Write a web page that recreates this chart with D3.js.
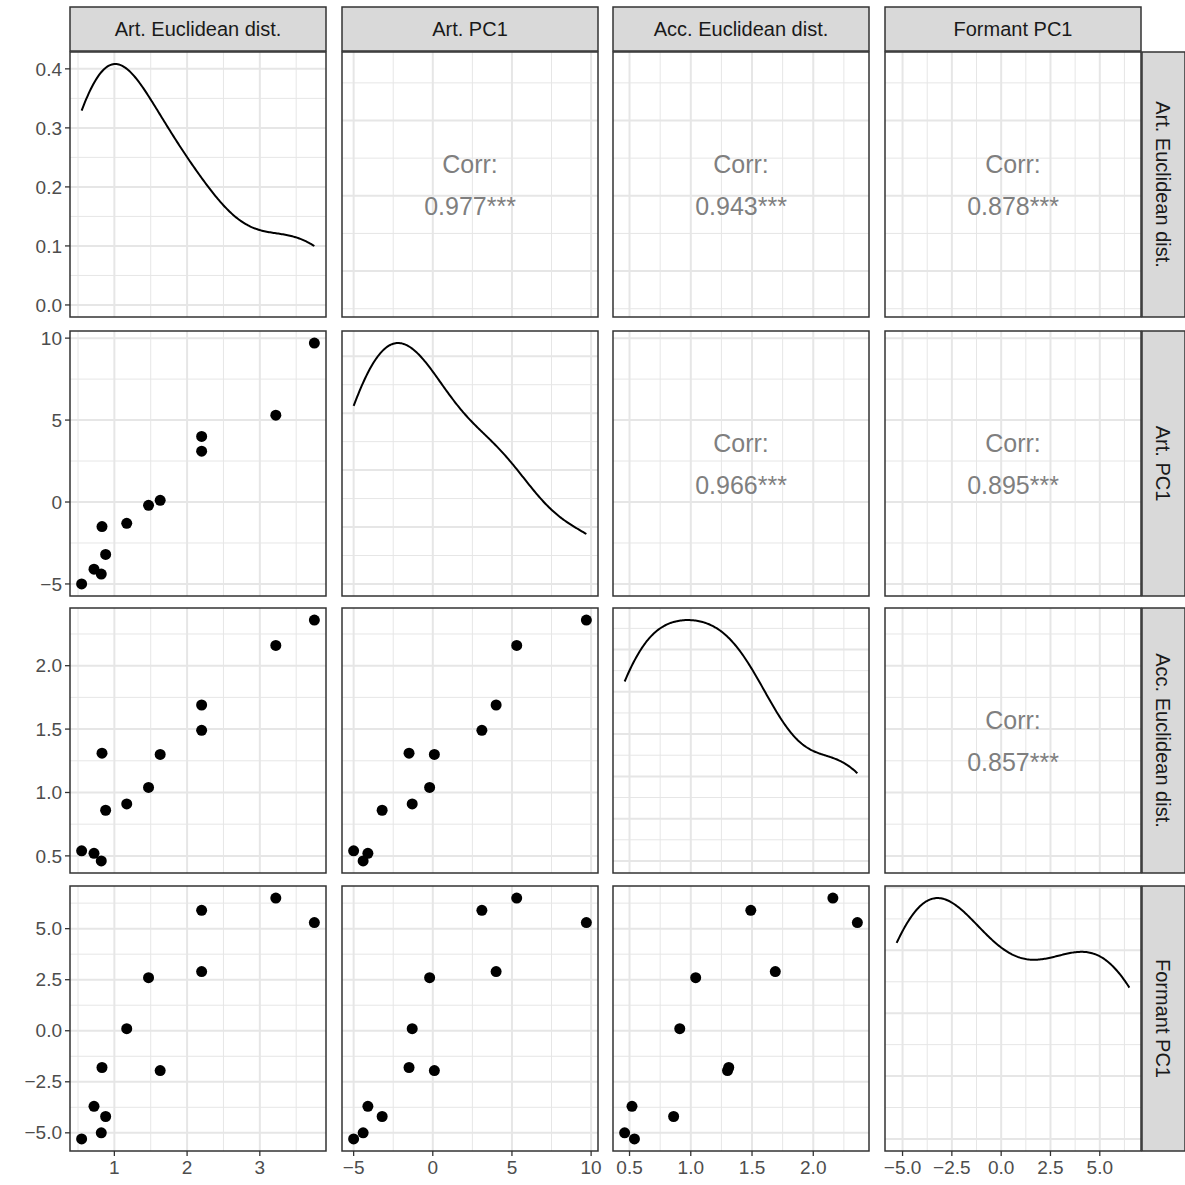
<!DOCTYPE html>
<html>
<head>
<meta charset="UTF-8">
<script src="https://d3js.org/d3.v7.min.js"></script>
<style>body{margin:0;background:#fff}</style>
</head>
<body>
<svg id="chart" width="1185" height="1185"></svg>
<script>
var names = ["Art. Euclidean dist.", "Art. PC1", "Acc. Euclidean dist.", "Formant PC1"];
var artEuc = [0.55, 0.72, 0.82, 0.83, 0.88, 1.17, 1.47, 1.63, 2.2, 2.2, 3.22, 3.75];
var artPC1 = [-5.0, -4.1, -4.4, -1.5, -3.2, -1.3, -0.2, 0.1, 3.1, 4.0, 5.3, 9.7];
var accEuc = [0.54, 0.52, 0.46, 1.31, 0.86, 0.91, 1.04, 1.30, 1.49, 1.69, 2.16, 2.36];
var formant = [-5.3, -3.7, -5.0, -1.8, -4.2, 0.1, 2.6, -1.95, 5.9, 2.9, 6.5, 5.3];
var vars = [artEuc, artPC1, accEuc, formant];
var ticks = [[1, 2, 3], [-5, 0, 5, 10], [0.5, 1.0, 1.5, 2.0], [-5.0, -2.5, 0.0, 2.5, 5.0]];
var tickFmt = [d3.format("d"), d3.format("d"), d3.format(".1f"), d3.format(".1f")];
var densTicks = [0.0, 0.1, 0.2, 0.3, 0.4];
// correlation labels [row][col]
var corrLabels = {"0-1": "0.977***", "0-2": "0.943***", "0-3": "0.878***",
                  "1-2": "0.966***", "1-3": "0.895***", "2-3": "0.857***"};

var svg = d3.select("#chart");
var px = [70, 342, 613, 885], py = [52, 331, 608, 886], pw = 256, ph = 265;
var grid = "#e6e6e6", tickCol = "#4d4d4d", font = "Liberation Sans, Arial, sans-serif";

function expand(ext, m) { var r = ext[1] - ext[0]; return [ext[0] - r * (m || 0.05), ext[1] + r * (m || 0.05)]; }
var xs = vars.map(function (v, i) { return d3.scaleLinear().domain(expand(d3.extent(v))).range([px[i], px[i] + pw]); });
var ys = vars.map(function (v, i) { return d3.scaleLinear().domain(expand(d3.extent(v))).range([py[i] + ph, py[i]]); });

function kde(v) {
  var n = v.length, sd = d3.deviation(v), s2 = v.slice().sort(d3.ascending);
  var iqr = d3.quantile(s2, 0.75) - d3.quantile(s2, 0.25);
  var bw = 0.9 * Math.min(sd, iqr / 1.34) * Math.pow(n, -0.2);
  var ext = d3.extent(v), pts = [];
  for (var k = 0; k <= 200; k++) {
    var x = ext[0] + (ext[1] - ext[0]) * k / 200, s = 0;
    v.forEach(function (xi) { var u = (x - xi) / bw; s += Math.exp(-0.5 * u * u); });
    pts.push([x, s / (n * bw * Math.sqrt(2 * Math.PI))]);
  }
  return pts;
}

function minors(t) { var m = []; for (var i = 0; i < t.length - 1; i++) m.push((t[i] + t[i + 1]) / 2); m.unshift(t[0] - (t[1] - t[0]) / 2); m.push(t[t.length - 1] + (t[1] - t[0]) / 2); return m; }

for (var r = 0; r < 4; r++) {
  for (var c = 0; c < 4; c++) {
    var g = svg.append("g");
    var x = xs[c], y = ys[r], yt = ticks[r];
    var dens = null;
    if (r === c) {
      dens = kde(vars[c]);
      var dmax = d3.max(dens, function (d) { return d[1]; });
      y = d3.scaleLinear().domain(expand([0, dmax])).range([py[r] + ph, py[r]]);
      yt = r === 0 ? densTicks.filter(function (t) { return t <= y.domain()[1]; }) : y.ticks(5);
    }
    var clip = "c" + r + c;
    svg.append("clipPath").attr("id", clip).append("rect").attr("x", px[c]).attr("y", py[r]).attr("width", pw).attr("height", ph);
    var gg = g.append("g").attr("clip-path", "url(#" + clip + ")");
    minors(ticks[c]).forEach(function (t) { gg.append("line").attr("x1", x(t)).attr("x2", x(t)).attr("y1", py[r]).attr("y2", py[r] + ph).attr("stroke", grid).attr("stroke-width", 1); });
    minors(yt).forEach(function (t) { gg.append("line").attr("y1", y(t)).attr("y2", y(t)).attr("x1", px[c]).attr("x2", px[c] + pw).attr("stroke", grid).attr("stroke-width", 1); });
    ticks[c].forEach(function (t) { gg.append("line").attr("x1", x(t)).attr("x2", x(t)).attr("y1", py[r]).attr("y2", py[r] + ph).attr("stroke", grid).attr("stroke-width", 2); });
    yt.forEach(function (t) { gg.append("line").attr("y1", y(t)).attr("y2", y(t)).attr("x1", px[c]).attr("x2", px[c] + pw).attr("stroke", grid).attr("stroke-width", 2); });

    if (r === c) {
      gg.append("path").datum(dens).attr("fill", "none").attr("stroke", "#000").attr("stroke-width", 2)
        .attr("d", d3.line().x(function (d) { return x(d[0]); }).y(function (d) { return y(d[1]); }));
    } else if (r > c) {
      var pts = d3.range(artEuc.length).map(function (i) { return [vars[c][i], vars[r][i]]; });
      gg.selectAll("circle.p").data(pts).enter().append("circle").attr("cx", function (d) { return x(d[0]); }).attr("cy", function (d) { return y(d[1]); }).attr("r", 5.5).attr("fill", "#000");
    } else {
      var cx = px[c] + pw / 2, cy = py[r] + ph / 2;
      g.append("text").attr("x", cx).attr("y", cy - 12).attr("text-anchor", "middle").attr("font-size", 25).attr("fill", "#7f7f7f").attr("font-family", font).text("Corr:");
      g.append("text").attr("x", cx).attr("y", cy + 30).attr("text-anchor", "middle").attr("font-size", 25).attr("fill", "#7f7f7f").attr("font-family", font).text(corrLabels[r + "-" + c]);
    }
    g.append("rect").attr("x", px[c]).attr("y", py[r]).attr("width", pw).attr("height", ph).attr("fill", "none").attr("stroke", "#333").attr("stroke-width", 1.5);

    if (c === 0) {
      var yfmt = r === 0 ? d3.format(".1f") : tickFmt[r];
      yt.forEach(function (t) {
        g.append("line").attr("x1", px[0] - 5).attr("x2", px[0]).attr("y1", y(t)).attr("y2", y(t)).attr("stroke", "#333").attr("stroke-width", 1.3);
        g.append("text").attr("x", px[0] - 8).attr("y", y(t)).attr("dy", "0.35em").attr("text-anchor", "end").attr("font-size", 19).attr("fill", tickCol).attr("font-family", font).text(yfmt(t));
      });
    }
    if (r === 3) {
      ticks[c].forEach(function (t) {
        g.append("line").attr("x1", x(t)).attr("x2", x(t)).attr("y1", py[3] + ph).attr("y2", py[3] + ph + 5).attr("stroke", "#333").attr("stroke-width", 1.3);
        g.append("text").attr("x", x(t)).attr("y", py[3] + ph + 23).attr("text-anchor", "middle").attr("font-size", 19).attr("fill", tickCol).attr("font-family", font).text(tickFmt[c](t));
      });
    }
  }
}
// strips
names.forEach(function (n, i) {
  svg.append("rect").attr("x", px[i]).attr("y", 7).attr("width", pw).attr("height", 44).attr("fill", "#d9d9d9").attr("stroke", "#333").attr("stroke-width", 1.5);
  svg.append("text").attr("x", px[i] + pw / 2).attr("y", 29).attr("dy", "0.35em").attr("text-anchor", "middle").attr("font-size", 20).attr("fill", "#1a1a1a").attr("font-family", font).text(n);
  svg.append("rect").attr("x", 1142).attr("y", py[i]).attr("width", 43).attr("height", ph).attr("fill", "#d9d9d9").attr("stroke", "#333").attr("stroke-width", 1.5);
  svg.append("text").attr("transform", "translate(1163," + (py[i] + ph / 2) + ") rotate(90)").attr("dy", "0.35em").attr("text-anchor", "middle").attr("font-size", 20).attr("fill", "#1a1a1a").attr("font-family", font).text(n);
});
</script>
</body>
</html>
